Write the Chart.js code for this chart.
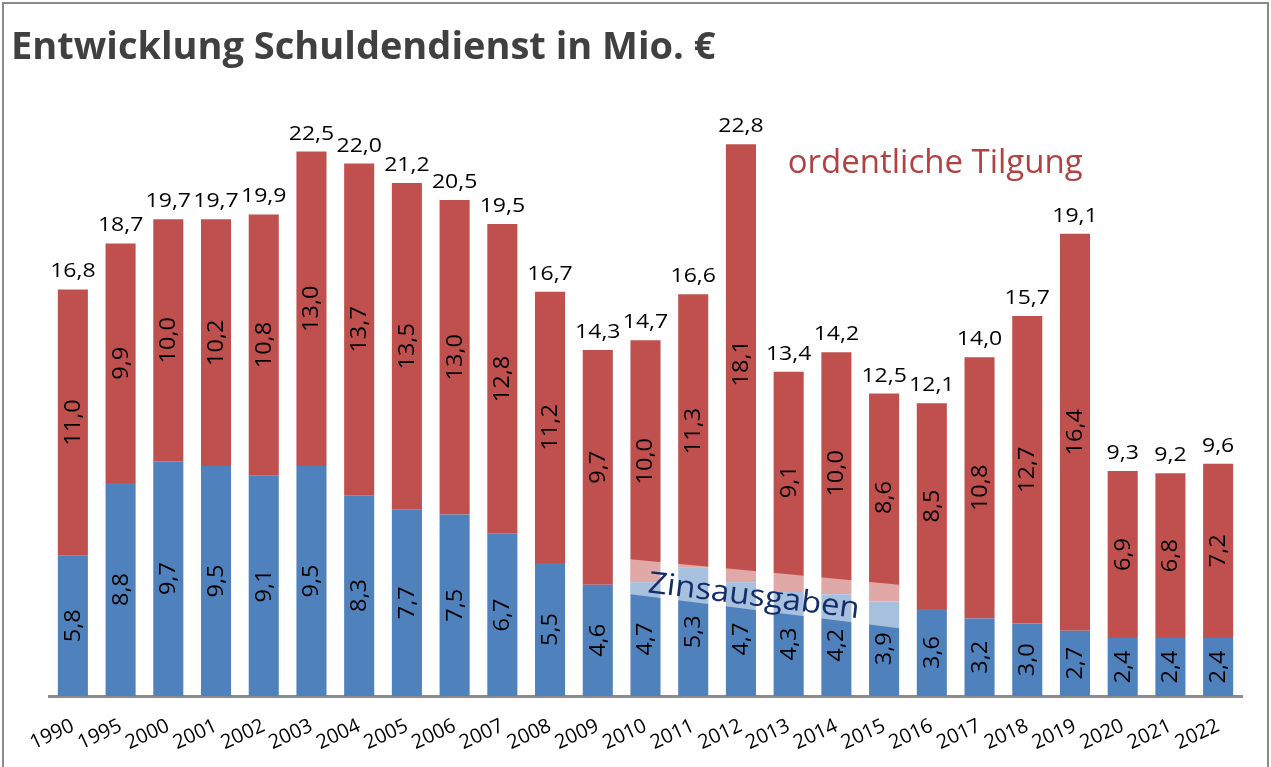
<!DOCTYPE html>
<html>
<head>
<meta charset="utf-8">
<script src="https://cdn.jsdelivr.net/npm/chart.js@4.4.1/dist/chart.umd.min.js"></script>
<style>
html,body{margin:0;padding:0;background:#fff;}
#wrap{position:relative;width:1271px;height:767px;}
</style>
</head>
<body>
<div id="wrap"><canvas id="c" width="1271" height="767"></canvas></div>
<script>
const years = ['1990','1995','2000','2001','2002','2003','2004','2005','2006','2007','2008','2009','2010','2011','2012','2013','2014','2015','2016','2017','2018','2019','2020','2021','2022'];
const zinsausgaben = [5.8,8.8,9.7,9.5,9.1,9.5,8.3,7.7,7.5,6.7,5.5,4.6,4.7,5.3,4.7,4.3,4.2,3.9,3.6,3.2,3.0,2.7,2.4,2.4,2.4];
const tilgung = [11.0,9.9,10.0,10.2,10.8,13.0,13.7,13.5,13.0,12.8,11.2,9.7,10.0,11.3,18.1,9.1,10.0,8.6,8.5,10.8,12.7,16.4,6.9,6.8,7.2];
const totals = [16.8,18.7,19.7,19.7,19.9,22.5,22.0,21.2,20.5,19.5,16.7,14.3,14.7,16.6,22.8,13.4,14.2,12.5,12.1,14.0,15.7,19.1,9.3,9.2,9.6];

const titleText = 'Entwicklung Schuldendienst in Mio. €';
const FONT = '"Open Sans", "DejaVu Sans", sans-serif';
const fmt = v => v.toFixed(1).replace('.', ',');

const labelPlugin = {
  id: 'labels',
  beforeDraw(chart) {
    const ctx = chart.ctx;
    ctx.save();
    ctx.fillStyle = '#fff';
    ctx.fillRect(0, 0, chart.width, chart.height);
    ctx.strokeStyle = '#8a8a8a';
    ctx.lineWidth = 2;
    ctx.strokeRect(3, 3, chart.width - 6, chart.height + 10);
    ctx.restore();
  },
  afterDatasetsDraw(chart) {
    const ctx = chart.ctx;
    const x = chart.scales.x, y = chart.scales.y;
    ctx.save();
    // title
    ctx.fillStyle = '#404040';
    ctx.font = 'bold 38px ' + FONT;
    ctx.textAlign = 'left';
    ctx.textBaseline = 'alphabetic';
    ctx.fillText(titleText, 11, 59);

    // in-bar labels
    ctx.fillStyle = '#000';
    ctx.font = '21px ' + FONT;
    ctx.textAlign = 'center';
    ctx.textBaseline = 'middle';
    [0, 1].forEach(di => {
      const meta = chart.getDatasetMeta(di);
      meta.data.forEach((bar, i) => {
        const v = chart.data.datasets[di].data[i];
        const cy = (bar.y + bar.base) / 2;
        ctx.save();
        ctx.translate(bar.x + 1, cy);
        ctx.rotate(-Math.PI / 2);
        ctx.scale(1.12, 1);
        ctx.fillText(fmt(v), 0, 0);
        ctx.restore();
      });
    });
    // totals
    ctx.font = '20px ' + FONT;
    ctx.textBaseline = 'alphabetic';
    const meta1 = chart.getDatasetMeta(1);
    meta1.data.forEach((bar, i) => {
      ctx.save();
      ctx.translate(bar.x, bar.y - 12);
      ctx.scale(1.15, 1);
      ctx.fillText(fmt(totals[i]), 0, 0);
      ctx.restore();
    });

    // translucent band + Zinsausgaben label
    const m0 = chart.getDatasetMeta(0);
    const bw = m0.data[12].width;
    const xl = x.getPixelForValue(12) - bw / 2;
    const xr = x.getPixelForValue(17) + bw / 2;
    ctx.fillStyle = 'rgba(255,255,255,0.5)';
    ctx.beginPath();
    ctx.moveTo(xl, y.getPixelForValue(5.65));
    ctx.lineTo(xr, y.getPixelForValue(4.6));
    ctx.lineTo(xr, y.getPixelForValue(2.8));
    ctx.lineTo(xl, y.getPixelForValue(4.2));
    ctx.closePath();
    ctx.fill();

    ctx.save();
    ctx.translate(x.getPixelForValue(14) + 13, y.getPixelForValue(4.1));
    ctx.rotate(7 * Math.PI / 180);
    ctx.fillStyle = '#142d6a';
    ctx.font = '30px ' + FONT;
    ctx.textAlign = 'center';
    ctx.textBaseline = 'middle';
    ctx.scale(1.1, 1);
    ctx.fillText('Zinsausgaben', 0, 0);
    ctx.restore();

    // Tilgung label
    ctx.fillStyle = '#b04242';
    ctx.font = '33px ' + FONT;
    ctx.textAlign = 'left';
    ctx.textBaseline = 'alphabetic';
    ctx.fillText('ordentliche Tilgung', x.getPixelForValue(15) - 1, 173);
    ctx.restore();
  }
};

new Chart(document.getElementById('c'), {
  type: 'bar',
  data: {
    labels: years,
    datasets: [
      { label: 'Zinsausgaben', data: zinsausgaben, backgroundColor: '#4f81bd', borderWidth: 0, barPercentage: 0.63, categoryPercentage: 1 },
      { label: 'ordentliche Tilgung', data: tilgung, backgroundColor: '#c0504d', borderWidth: 0, barPercentage: 0.63, categoryPercentage: 1 }
    ]
  },
  options: {
    responsive: false,
    animation: false,
    events: [],
    layout: { padding: { left: 49, right: 29, top: 91, bottom: 0 } },
    plugins: { legend: { display: false }, title: { display: false }, tooltip: { enabled: false } },
    scales: {
      x: {
        stacked: true,
        grid: { display: false, drawTicks: false },
        border: { display: true, color: '#8c8c8c', width: 3 },
        ticks: { color: '#000', font: { size: 20, family: FONT }, minRotation: 25, maxRotation: 25, padding: 18, autoSkip: false },
        afterFit(scale) { scale.height = 71; }
      },
      y: {
        stacked: true,
        display: false,
        min: 0,
        max: 25
      }
    }
  },
  plugins: [labelPlugin]
});
</script>
</body>
</html>
